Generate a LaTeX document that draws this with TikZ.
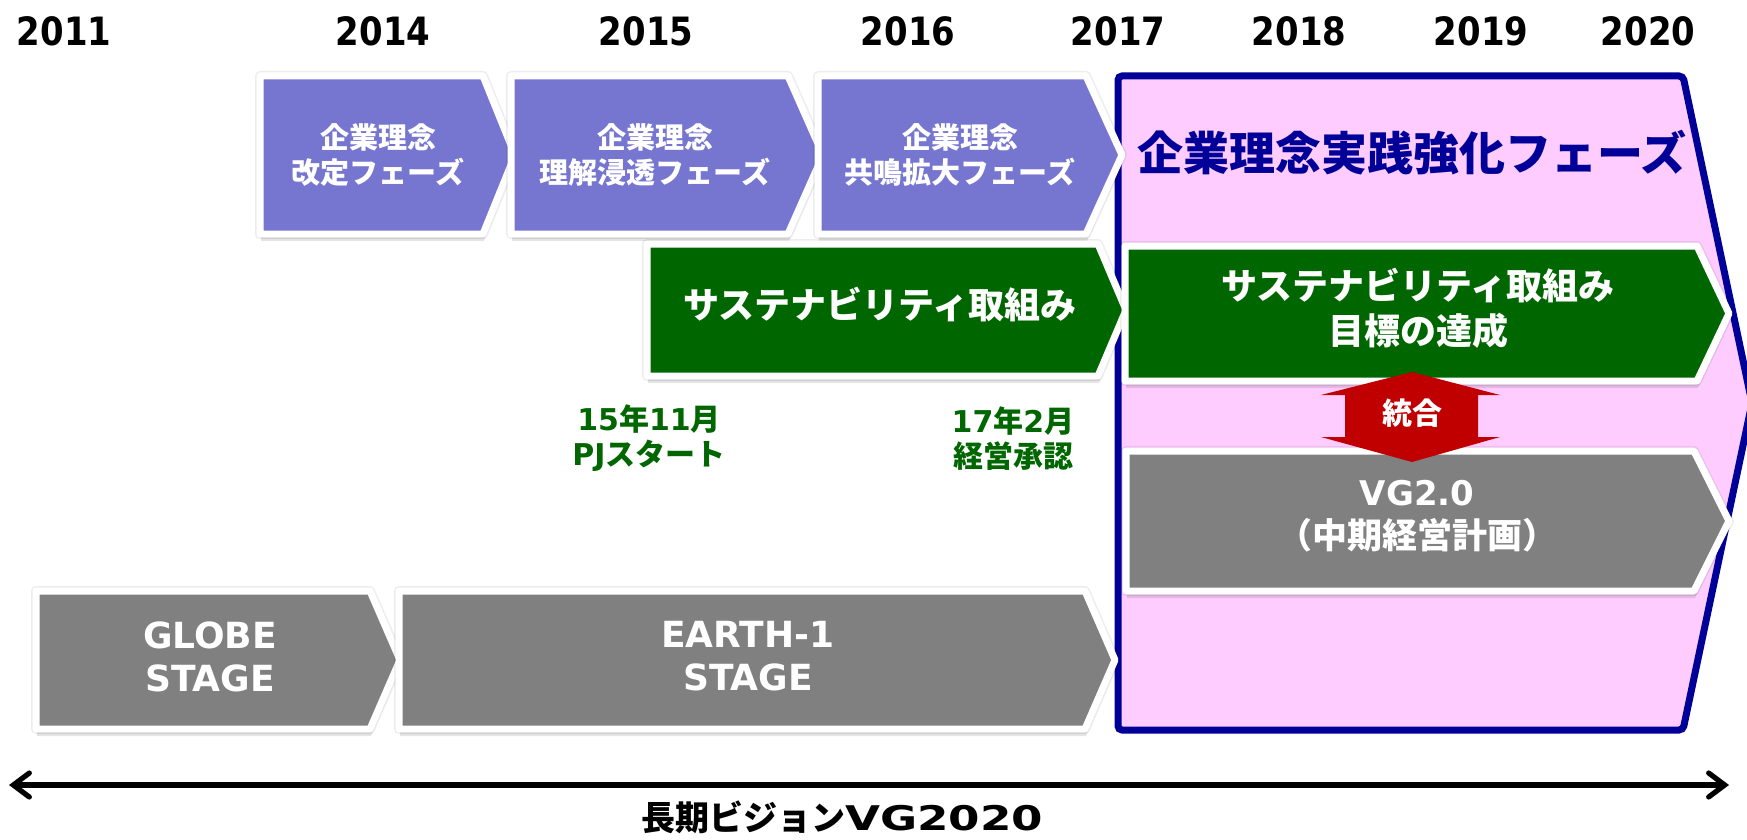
\documentclass[tikz,border=0pt]{standalone}
\usepackage{fontspec}
\usetikzlibrary{arrows.meta}
\newfontfamily\jp{Noto Sans CJK JP}
\newfontfamily\lat{DejaVu Sans}
\newfontfamily\yearfont[FakeStretch=0.87]{DejaVu Sans}
\newfontfamily\widelat[FakeStretch=1.33]{DejaVu Sans}
\newcommand\latn[1]{{\lat\bfseries #1}}
\definecolor{purp}{RGB}{118,118,208}
\definecolor{dgreen}{RGB}{0,102,0}
\definecolor{gry}{RGB}{128,128,128}
\definecolor{navy}{RGB}{0,0,153}
\definecolor{pinkbg}{RGB}{255,204,255}
\definecolor{redarr}{RGB}{192,0,0}
\newcommand\chevshape[7]{%
  \path[draw=black,opacity=0.07,line width=5pt,line join=round] (#2,#3) -- (#4,#3) -- (#5,{(#3+#6)/2}) -- (#4,#6) -- (#2,#6) -- cycle;
  \path[fill=black,opacity=0.10,shift={(1,7)}] (#2,#3) -- (#4,#3) -- (#5,{(#3+#6)/2}) -- (#4,#6) -- (#2,#6) -- cycle;
  \path[fill=black,opacity=0.14,shift={(0.5,4)}] (#2,#3) -- (#4,#3) -- (#5,{(#3+#6)/2}) -- (#4,#6) -- (#2,#6) -- cycle;
  \path[chev,fill=#1] (#2,#3) -- (#4,#3) -- (#5,{(#3+#6)/2}) -- (#4,#6) -- (#2,#6) -- cycle;
  \coordinate (#7) at ({(#2+#4)/2},{(#3+#6)/2});
}
\begin{document}
\begin{tikzpicture}[x=0.5pt,y=-0.5pt,
  chev/.style={draw=white,line width=3.5pt,line join=round},
  year/.style={font=\yearfont\bfseries\fontsize{19.5pt}{22pt}\selectfont,inner sep=0pt},
  purptext/.style={text=white,align=center,inner sep=0pt,font=\jp\bfseries\fontsize{14.5pt}{17.5pt}\selectfont},
  bigtext/.style={text=white,align=center,inner sep=0pt,font=\jp\bfseries\fontsize{18pt}{22.5pt}\selectfont},
  stagetext/.style={text=white,align=center,inner sep=0pt,font=\lat\bfseries\fontsize{18pt}{21.5pt}\selectfont},
  greenlabel/.style={text=dgreen,align=center,inner sep=0pt,font=\jp\bfseries\fontsize{15pt}{17.5pt}\selectfont},
  phase/.style={fill=pinkbg,draw=navy,line width=3.5pt,rounded corners=2pt},
  timeline/.style={line width=2.6pt,{Straight Barb[length=8pt,width=12pt,line cap=round]}-{Straight Barb[length=8pt,width=12pt,line cap=round]}}
]
\useasboundingbox (0,0) rectangle (1747,840);
\fill[white] (0,0) rectangle (1747,840);

% years
\node[year] (y2011) at (64,31) {2011};
\node[year] (y2014) at (383,31) {2014};
\node[year] (y2015) at (646,31) {2015};
\node[year] (y2016) at (908,31) {2016};
\node[year] (y2017) at (1118,31) {2017};
\node[year] (y2018) at (1299,31) {2018};
\node[year] (y2019) at (1481,31) {2019};
\node[year] (y2020) at (1648,31) {2020};

% phase region
\draw[phase] (1118,76) -- (1683,76) -- (1752,403) -- (1683,730) -- (1118,730) -- cycle;

% purple chevrons
\chevshape{purp}{260}{76}{483}{515}{234}{p1}
\chevshape{purp}{511}{76}{788}{823}{234}{p2}
\chevshape{purp}{818}{76}{1086}{1122}{234}{p3}

% green chevrons
\chevshape{dgreen}{647}{244}{1098}{1126}{376}{g1}
\chevshape{dgreen}{1125}{246}{1697}{1729}{381}{g2}

% gray chevrons
\chevshape{gry}{1126}{451}{1694}{1729}{591}{vg}
\chevshape{gry}{36}{591}{370}{400}{729}{globe}
\chevshape{gry}{399}{591}{1085}{1115}{729}{earth}

% red double arrow
\fill[redarr] (1412,372) -- (1500,395) -- (1478,395) -- (1478,437) -- (1500,437) -- (1412,462)
  -- (1321,437) -- (1345,437) -- (1345,395) -- (1321,395) -- cycle;
\node[text=white,inner sep=0pt,font=\jp\bfseries\fontsize{15pt}{18pt}\selectfont] (togo) at (1412,413) {統合};

% texts
\node[purptext] (t1) at (378,154.5) {企業理念\\改定フェーズ};
\node[purptext] (t2) at (655,154.5) {企業理念\\理解浸透フェーズ};
\node[purptext] (t3) at (960,154.5) {企業理念\\共鳴拡大フェーズ};
\node[text=navy,inner sep=0pt,font=\jp\bfseries\fontsize{23pt}{26pt}\selectfont] (title) at (1412,153) {企業理念実践強化フェーズ};
\node[bigtext] (tg1) at (880,305) {サステナビリティ取組み};
\node[bigtext] (tg2) at (1418,308.5) {サステナビリティ取組み\\目標の達成};
\node[bigtext,font=\jp\bfseries\fontsize{17.5pt}{21.5pt}\selectfont] (tvg) at (1417,516) {\latn{\fontsize{17pt}{21.5pt}\selectfont VG2.0}\\（中期経営計画）};
\node[stagetext] (tglobe) at (210,656.5) {GLOBE\\STAGE};
\node[stagetext] (tearth) at (748,656.5) {EARTH-1\\STAGE};
\node[greenlabel] (l1) at (649,438.5) {\latn{15}年\latn{11}月\\\latn{PJ}スタート};
\node[greenlabel] (l2) at (1013,438.5) {\latn{17}年\latn{2}月\\経営承認};

% timeline
\coordinate (la) at (9,785);
\coordinate (ra) at (1729,785);
\draw[timeline] (la) -- (ra);
\node[inner sep=0pt,font=\jp\bfseries\fontsize{17pt}{20pt}\selectfont] (vision) at (842,817) {長期ビジョン{\widelat\bfseries VG2020}};
\end{tikzpicture}
\end{document}
